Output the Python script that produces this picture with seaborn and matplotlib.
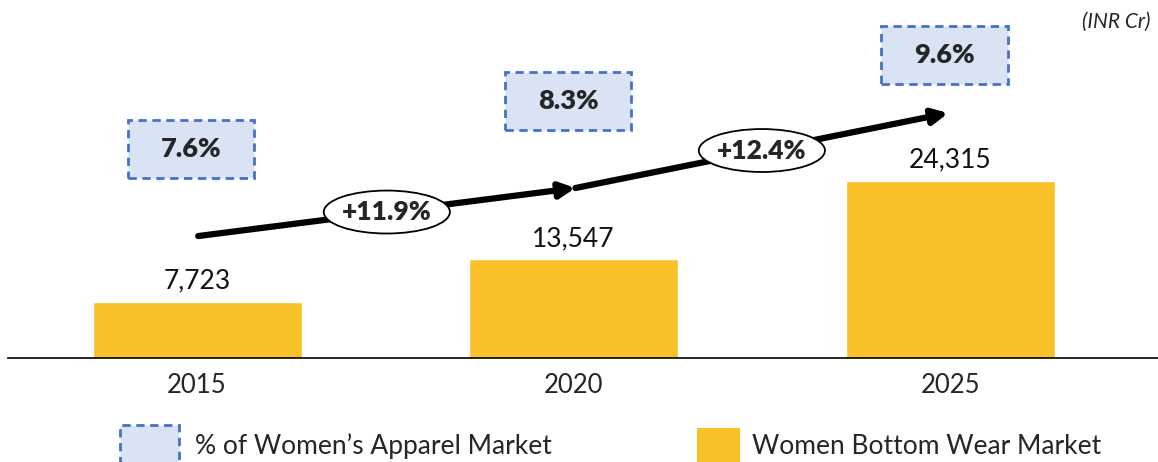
import matplotlib

matplotlib.use("Agg")
import matplotlib.pyplot as plt
import numpy as np
import pandas as pd
import seaborn as sns
from matplotlib.patches import Ellipse, Rectangle

years = ["2015", "2020", "2025"]
market_value = [7723, 13547, 24315]
share_of_apparel = ["7.6%", "8.3%", "9.6%"]
cagr_labels = ["+11.9%", "+12.4%"]

# layout (data coords of the annotation elements)
share_box_y = [28700, 35300, 41600]
arrow_pts = [(0.003, 16750), (1.005, 23350), (1.995, 33650)]

BAR_COLOR = "#F8C12A"
BOX_FILL = "#DAE3F3"
BOX_EDGE = "#4472C4"

sns.set_style("white")
plt.rcParams["font.family"] = ["Lato", "DejaVu Sans"]

df = pd.DataFrame({"Year": years, "Value": market_value})

fig = plt.figure(figsize=(11.58, 4.62), dpi=100)
ax = fig.add_axes([8 / 1158, (462 - 358) / 462, 1 - 8 / 1158, 358 / 462])

sns.barplot(data=df, x="Year", y="Value", color=BAR_COLOR, width=0.555, saturation=1, ax=ax)
ax.set_xlim(-0.502, 2.552)
ax.set_ylim(0, 49175)
ax.bar_label(ax.containers[0], labels=[f"{v:,}" for v in market_value], padding=6,
             fontsize=19, color="#111111")

for s in ["top", "right", "left"]:
    ax.spines[s].set_visible(False)
ax.spines["bottom"].set_color("black")
ax.spines["bottom"].set_linewidth(1.2)
ax.set_yticks([])
ax.set_xlabel("")
ax.set_ylabel("")
ax.tick_params(axis="x", length=0, pad=11, labelsize=18.5)

# share-of-market boxes
bw, bh = 0.335, 7970
for i, (lab, y) in enumerate(zip(share_of_apparel, share_box_y)):
    x = i - 0.015
    ax.add_patch(Rectangle((x - bw / 2, y - bh / 2), bw, bh, facecolor=BOX_FILL,
                           edgecolor=BOX_EDGE, linestyle=(0, (3, 2)), linewidth=2, zorder=3))
    ax.text(x, y, lab, ha="center", va="center", fontsize=19.5, fontweight="heavy", zorder=4)

# growth arrows with CAGR ellipses
for k in range(2):
    (x0, y0), (x1, y1) = arrow_pts[k], arrow_pts[k + 1]
    ax.annotate("", xy=(x1, y1), xytext=(x0, y0),
                arrowprops=dict(arrowstyle="-|>,head_length=0.9,head_width=0.45", color="black",
                                lw=4.5, shrinkA=0, shrinkB=0), zorder=5)
    cx, cy = x0 + 0.5 * (x1 - x0), y0 + 0.5 * (y1 - y0)
    ax.add_patch(Ellipse((cx, cy), 0.335, 5900, facecolor="white", edgecolor="black",
                         linewidth=1.3, zorder=6))
    ax.text(cx, cy, cagr_labels[k], ha="center", va="center", fontsize=19,
            fontweight="heavy", zorder=7)

fig.text(1150 / 1158, 1 - 22 / 462, "(INR Cr)", ha="right", va="center",
         fontsize=15, fontstyle="italic")

# legend
fig.patches.append(Rectangle((120 / 1158, (462 - 470) / 462), 59 / 1158, 45 / 462,
                             transform=fig.transFigure, facecolor=BOX_FILL, edgecolor=BOX_EDGE,
                             linestyle=(0, (3, 2)), linewidth=2))
fig.text(195 / 1158, 1 - 446 / 462, "% of Women\u2019s Apparel Market", ha="left",
         va="center", fontsize=19)
fig.patches.append(Rectangle((697 / 1158, 0), 43 / 1158, 34 / 462,
                             transform=fig.transFigure, facecolor=BAR_COLOR, edgecolor="none"))
fig.text(752 / 1158, 1 - 446 / 462, "Women Bottom Wear Market", ha="left",
         va="center", fontsize=19)

fig.savefig("out.png", dpi=100)
